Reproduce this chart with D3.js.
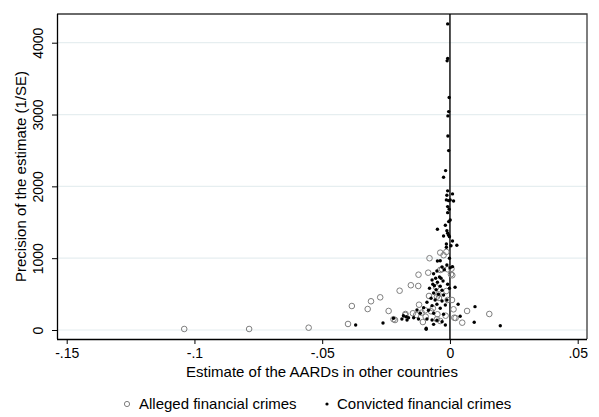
<!DOCTYPE html>
<html><head><meta charset="utf-8">
<script src="https://cdn.jsdelivr.net/npm/d3@7"></script>
<style>body{margin:0;background:#fff}svg{display:block}text{font-family:"Liberation Sans",Arial,sans-serif}</style>
</head><body>
<svg id="chart" width="599" height="417"></svg>
<script>
const xTicks = [-0.15, -0.1, -0.05, 0, 0.05];
const xTickLabels = ["-.15", "-.1", "-.05", "0", ".05"];
const yTicks = [0, 1000, 2000, 3000, 4000];
const yTickLabels = ["0", "1000", "2000", "3000", "4000"];

const allegedX = [-0.104,-0.0786,-0.0553,-0.0399,-0.0384,-0.0322,-0.0309,-0.0273,-0.024,-0.0215,-0.0197,-0.0174,-0.0153,-0.0145,-0.0124,-0.0123,-0.0121,-0.0111,-0.0106,-0.0095,-0.0085,-0.0082,-0.008,-0.0074,-0.0054,-0.0051,-0.0051,-0.0043,-0.0038,-0.0038,-0.0025,-0.0017,-0.0014,-0.0014,-0.0009,-0.0009,0.0006,0.0009,0.0014,0.0022,0.0048,0.0067,0.0154,-0.0067,-0.0097,-0.0132,-0.0175,-0.0049,-0.0038,0.0008,0.0017,-0.0031,0.0004,-0.0221,-0.0045];
const allegedY = [14,14,32,84,334,292,400,455,265,139,547,223,623,233,613,770,352,241,111,185,798,474,999,260,595,464,149,446,1077,836,1041,199,1087,543,846,418,854,762,288,167,102,265,223,302,274,209,209,219,125,418,171,846,776,150,497];

const convictedX = [-0.0009,-0.0009,-0.0011,-0.0003,-0.0005,-0.0008,-0.0008,-0.0005,-0.0017,-0.0025,-0.0009,0.001,-0.0012,-0.0014,-0.0005,0.0001,0.0014,-0.0009,-0.0003,-0.0009,0.0001,-0.0005,-0.0018,-0.0049,-0.0012,-0.0009,-0.0005,-0.0025,-0.0002,0.001,-0.0014,0.0027,-0.0014,0.0004,-0.0049,-0.0002,-0.0012,-0.0031,0.0001,0.001,-0.0051,-0.0022,-0.0064,-0.0041,-0.0035,-0.0056,-0.007,-0.0027,-0.0049,-0.0067,-0.0061,-0.0038,-0.0009,-0.008,-0.0054,-0.0031,-0.0002,-0.0064,-0.0045,-0.0025,-0.0074,-0.0058,-0.0031,-0.0012,-0.009,-0.0051,-0.007,-0.0018,-0.0103,-0.0038,-0.0129,-0.0084,-0.0116,-0.0064,-0.0025,-0.0182,-0.0171,-0.0162,-0.0142,-0.0123,-0.009,-0.007,-0.0051,-0.0031,-0.0018,-0.0064,-0.0093,-0.0093,-0.0188,-0.0168,-0.0369,-0.0262,-0.0221,0.0032,0.0098,0.004,0.0095,0.0197,0.002,-0.0038];
const convictedY = [4262,3779,3747,3236,3041,2981,2702,2498,2219,2127,1937,1895,1876,1811,1801,1811,1797,1718,1681,1634,1532,1509,1458,1403,1383,1347,1319,1309,1300,1240,1198,1180,1152,1174,961,999,906,878,868,882,822,840,784,738,720,720,697,683,664,637,617,609,637,581,561,553,581,515,497,488,442,418,404,418,386,358,339,348,311,302,279,274,233,233,219,199,185,171,171,153,153,139,135,116,70,79,24,10,153,139,70,98,163,358,325,191,107,60,595,965];

const svg = d3.select("#chart");
const L = 57, R = 587, T = 14, B = 339;
const x = d3.scaleLinear().domain([-0.15, 0.05]).range([66.7, 577.7]);
const y = d3.scaleLinear().domain([0, 4000]).range([330, 42.7]);

// gridlines
svg.append("g").selectAll("line").data(yTicks).join("line")
  .attr("x1", L).attr("x2", R).attr("y1", d => y(d)).attr("y2", d => y(d))
  .attr("stroke", "#e6eef0").attr("stroke-width", 1.2);

// frame (top, right)
svg.append("path").attr("d", `M${L},${T}H${R}V${B}`).attr("fill","none").attr("stroke","#3a3a3a").attr("stroke-width",1.3);

// zero line
svg.append("line").attr("x1", x(0)).attr("x2", x(0)).attr("y1", T).attr("y2", B)
  .attr("stroke", "#000").attr("stroke-width", 1.4);

// axes
const xAxis = d3.axisBottom(x).tickValues(xTicks).tickFormat((d,i) => xTickLabels[i]).tickSize(5).tickSizeOuter(0);
const gx = svg.append("g").attr("transform", `translate(0,${B})`).call(xAxis);
gx.select(".domain").attr("d", `M${L},0.5H${R}`).attr("stroke","#000").attr("stroke-width",1.3);
gx.selectAll(".tick line").attr("stroke","#000");
gx.selectAll(".tick text").attr("font-size", 14).attr("fill","#000").attr("dy", "0.78em").attr("font-family", "Liberation Sans, Arial, sans-serif");

const yAxis = d3.axisLeft(y).tickValues(yTicks).tickFormat((d,i) => yTickLabels[i]).tickSize(5).tickSizeOuter(0);
const gy = svg.append("g").attr("transform", `translate(${L},0)`).call(yAxis);
gy.select(".domain").attr("d", `M0.5,${T}V${B}`).attr("stroke","#000").attr("stroke-width",1.3);
gy.selectAll(".tick line").attr("stroke","#000");
gy.selectAll(".tick text").attr("font-size", 14).attr("fill","#000").attr("font-family", "Liberation Sans, Arial, sans-serif")
  .attr("x", null).attr("dy", null).attr("text-anchor","middle")
  .attr("transform", "translate(-14,0) rotate(-90)").attr("y", 0);

// axis titles
svg.append("text").attr("x", (L+R)/2).attr("y", 377).attr("text-anchor","middle").attr("font-size", 15)
  .text("Estimate of the AARDs in other countries");
svg.append("text").attr("transform", `translate(26,${(T+B)/2}) rotate(-90)`).attr("text-anchor","middle").attr("font-size", 15)
  .text("Precision of the estimate (1/SE)");

// points
const alleged = allegedX.map((v,i) => [v, allegedY[i]]);
const convicted = convictedX.map((v,i) => [v, convictedY[i]]);
svg.append("g").selectAll("circle").data(alleged).join("circle")
  .attr("cx", d => x(d[0])).attr("cy", d => y(d[1])).attr("r", 2.8)
  .attr("fill","none").attr("stroke","#7f7f7f").attr("stroke-width",1);
svg.append("g").selectAll("circle").data(convicted).join("circle")
  .attr("cx", d => x(d[0])).attr("cy", d => y(d[1])).attr("r", 1.7)
  .attr("fill","#000");

// legend
const lg = svg.append("g");
lg.append("circle").attr("cx", 127).attr("cy", 404).attr("r", 2.6).attr("fill","none").attr("stroke","#7f7f7f").attr("stroke-width",1);
lg.append("text").attr("x", 139).attr("y", 409).attr("font-size", 15).text("Alleged financial crimes");
lg.append("circle").attr("cx", 327).attr("cy", 404).attr("r", 1.6).attr("fill","#000");
lg.append("text").attr("x", 337).attr("y", 409).attr("font-size", 15).text("Convicted financial crimes");
</script>
</body></html>
